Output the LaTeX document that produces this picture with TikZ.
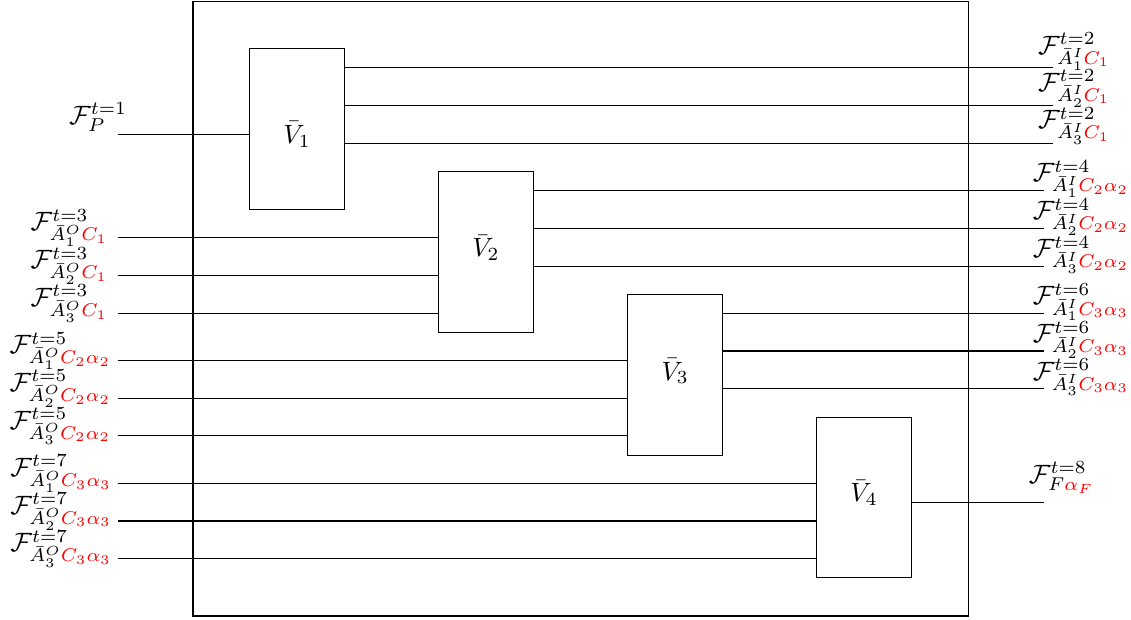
\documentclass[tikz,border=0pt]{standalone}
\usepackage{amsmath}
\usepackage{amssymb}
\usetikzlibrary{positioning}
\tikzset{blk/.style = {draw, minimum width=1.255cm, minimum height=2.13cm, inner sep=0},
         lab/.style = {anchor=base west, inner sep=0}}
\newcommand{\rd}[1]{\textcolor{red}{#1}}

\begin{document}
\begin{tikzpicture}
      \useasboundingbox (0, 0) rectangle (15, -8.21);
      \draw (2.56, -0.02) rectangle (12.84, -8.17);
      % blocks
      \node [blk] (V1) at (3.94, -1.71) {};
      \node [blk] (V2) at (6.445, -3.34) {};
      \node [blk] (V3) at (8.955, -4.97) {};
      \node [blk] (V4) at (11.46, -6.6) {};
      \node [anchor = base] (tV1) at (3.94, -1.9) {$\bar{V}_1$};
      \node [anchor = base] (tV2) at (6.445, -3.405) {$\bar{V}_2$};
      \node [anchor = base] (tV3) at (8.955, -5.04) {$\bar{V}_3$};
      \node [anchor = base] (tV4) at (11.46, -6.654) {$\bar{V}_4$};
      % inputs
      \coordinate (iP) at (1.56, -1.78);
      \coordinate (a1) at (1.56, -3.15);
      \coordinate (a2) at (1.56, -3.65);
      \coordinate (a3) at (1.56, -4.155);
      \coordinate (b1) at (1.56, -4.78);
      \coordinate (b2) at (1.56, -5.28);
      \coordinate (b3) at (1.56, -5.78);
      \coordinate (c1) at (1.56, -6.41);
      \coordinate (c2) at (1.56, -6.91);
      \coordinate (c3) at (1.56, -7.41);
      \draw (iP) -- (iP -| V1.west);
      \draw (a1) -- (a1 -| V2.west);
      \draw (a2) -- (a2 -| V2.west);
      \draw (a3) -- (a3 -| V2.west);
      \draw (b1) -- (b1 -| V3.west);
      \draw (b2) -- (b2 -| V3.west);
      \draw (b3) -- (b3 -| V3.west);
      \draw (c1) -- (c1 -| V4.west);
      \draw (c2) -- (c2 -| V4.west);
      \draw (c3) -- (c3 -| V4.west);
      \node [lab] (lP) at (0.91, -1.645) {$\mathcal{F}^{t=1}_{P}$};
      \node [lab] (la1) at (0.4, -3.06) {$\mathcal{F}^{t=3}_{\bar{A}^O_1\rd{C_1}}$};
      \node [lab] (la2) at (0.4, -3.565) {$\mathcal{F}^{t=3}_{\bar{A}^O_2\rd{C_1}}$};
      \node [lab] (la3) at (0.4, -4.065) {$\mathcal{F}^{t=3}_{\bar{A}^O_3\rd{C_1}}$};
      \node [lab] (lb1) at (0.12, -4.69) {$\mathcal{F}^{t=5}_{\bar{A}^O_1\rd{C_2\alpha_2}}$};
      \node [lab] (lb2) at (0.12, -5.19) {$\mathcal{F}^{t=5}_{\bar{A}^O_2\rd{C_2\alpha_2}}$};
      \node [lab] (lb3) at (0.12, -5.69) {$\mathcal{F}^{t=5}_{\bar{A}^O_3\rd{C_2\alpha_2}}$};
      \node [lab] (lc1) at (0.13, -6.32) {$\mathcal{F}^{t=7}_{\bar{A}^O_1\rd{C_3\alpha_3}}$};
      \node [lab] (lc2) at (0.13, -6.82) {$\mathcal{F}^{t=7}_{\bar{A}^O_2\rd{C_3\alpha_3}}$};
      \node [lab] (lc3) at (0.13, -7.32) {$\mathcal{F}^{t=7}_{\bar{A}^O_3\rd{C_3\alpha_3}}$};
      % outputs
      \coordinate (d1) at (13.96, -0.9);
      \coordinate (d2) at (13.96, -1.4);
      \coordinate (d3) at (13.96, -1.9);
      \coordinate (e1) at (13.84, -2.53);
      \coordinate (e2) at (13.84, -3.03);
      \coordinate (e3) at (13.84, -3.53);
      \coordinate (f1) at (13.84, -4.155);
      \coordinate (f2) at (13.84, -4.655);
      \coordinate (f3) at (13.84, -5.155);
      \coordinate (oF) at (13.84, -6.66);
      \draw (d1 -| V1.east) -- (d1);
      \draw (d2 -| V1.east) -- (d2);
      \draw (d3 -| V1.east) -- (d3);
      \draw (e1 -| V2.east) -- (e1);
      \draw (e2 -| V2.east) -- (e2);
      \draw (e3 -| V2.east) -- (e3);
      \draw (f1 -| V3.east) -- (f1);
      \draw (f2 -| V3.east) -- (f2);
      \draw (f3 -| V3.east) -- (f3);
      \draw (oF -| V4.east) -- (oF);
      \node [lab] (ld1) at (13.76, -0.72) {$\mathcal{F}^{t=2}_{\bar{A}^I_1\rd{C_1}}$};
      \node [lab] (ld2) at (13.76, -1.21) {$\mathcal{F}^{t=2}_{\bar{A}^I_2\rd{C_1}}$};
      \node [lab] (ld3) at (13.76, -1.71) {$\mathcal{F}^{t=2}_{\bar{A}^I_3\rd{C_1}}$};
      \node [lab] (le1) at (13.69, -2.41) {$\mathcal{F}^{t=4}_{\bar{A}^I_1\rd{C_2\alpha_2}}$};
      \node [lab] (le2) at (13.69, -2.915) {$\mathcal{F}^{t=4}_{\bar{A}^I_2\rd{C_2\alpha_2}}$};
      \node [lab] (le3) at (13.69, -3.42) {$\mathcal{F}^{t=4}_{\bar{A}^I_3\rd{C_2\alpha_2}}$};
      \node [lab] (lf1) at (13.69, -4.045) {$\mathcal{F}^{t=6}_{\bar{A}^I_1\rd{C_3\alpha_3}}$};
      \node [lab] (lf2) at (13.69, -4.545) {$\mathcal{F}^{t=6}_{\bar{A}^I_2\rd{C_3\alpha_3}}$};
      \node [lab] (lf3) at (13.69, -5.04) {$\mathcal{F}^{t=6}_{\bar{A}^I_3\rd{C_3\alpha_3}}$};
      \node [lab] (lF) at (13.64, -6.41) {$\mathcal{F}^{t=8}_{F\rd{\alpha_F}}$};
\end{tikzpicture}
\end{document}
